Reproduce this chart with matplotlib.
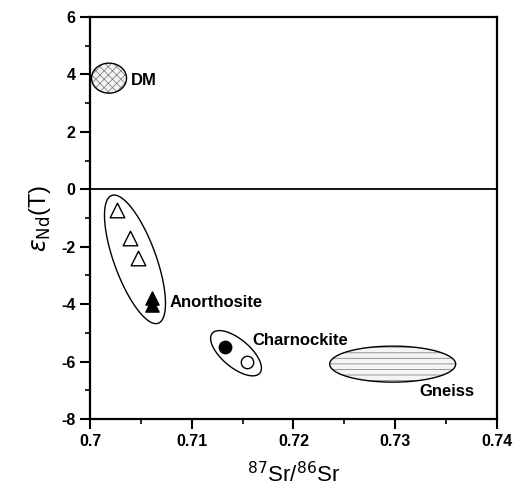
import numpy as np
import matplotlib
matplotlib.use("Agg")
import matplotlib.pyplot as plt
from matplotlib.patches import Polygon

plt.rcParams['font.family'] = ['Liberation Sans', 'DejaVu Sans']
plt.rcParams['hatch.linewidth'] = 0.6
plt.rcParams['axes.unicode_minus'] = False

# sample points (87Sr/86Sr, eNd(T))
anor_open_x = [0.70262, 0.70393, 0.70475]
anor_open_y = [-0.73, -1.68, -2.38]
anor_fill_x = [0.70606, 0.70606]
anor_fill_y = [-3.78, -4.02]
charn_fill_x = [0.71327]
charn_fill_y = [-5.49]
charn_open_x = [0.71540]
charn_open_y = [-6.02]

# fields: name, centre x, centre y, semi-axis a (px), semi-axis b (px), angle (deg), hatch
fields = [
    ("DM", 0.70187, 3.87, 17.5, 15.0, 0, "xxxx"),
    ("Anorthosite", 0.70442, -2.44, 68.0, 21.0, -70, None),
    ("Charnockite", 0.71435, -5.71, 31.0, 14.0, -40, None),
    ("Gneiss", 0.72975, -6.09, 63.0, 18.0, 0, "---"),
]

labels = ["DM", "Anorthosite", "Charnockite", "Gneiss"]
label_x = [0.7040, 0.7078, 0.7160, 0.7324]
label_y = [3.8, -3.93, -5.26, -7.06]

fig = plt.figure(figsize=(5.15, 5.04), dpi=100)
ax = fig.add_axes([0.1748, 0.1687, 0.7902, 0.7976])
ax.set_xlim(0.70, 0.74)
ax.set_ylim(-8, 6)

# pixel scale of the axes (for drawing round ellipses on screen)
px_per_x = 0.7902 * 515 / 0.04
px_per_y = 0.7976 * 504 / 14.0

t = np.linspace(0, 2 * np.pi, 200)
for name, cx, cy, a, b, ang, hatch in fields:
    th = np.deg2rad(ang)
    dx = a * np.cos(t) * np.cos(th) - b * np.sin(t) * np.sin(th)
    dy = a * np.cos(t) * np.sin(th) + b * np.sin(t) * np.cos(th)
    pts = np.column_stack([cx + dx / px_per_x, cy + dy / px_per_y])
    if hatch:
        ax.add_patch(Polygon(pts, closed=True, facecolor="#f4f4f4",
                             edgecolor="#888888", hatch=hatch, lw=0, zorder=1))
    ax.add_patch(Polygon(pts, closed=True, fill=False, edgecolor="black",
                         lw=1.0, zorder=2))

ax.axhline(0, color="black", lw=1.3, zorder=2)

ax.scatter(anor_open_x, anor_open_y, marker="^", s=110, facecolors="white",
           edgecolors="black", linewidths=1.0, zorder=3)
ax.scatter(anor_fill_x, anor_fill_y, marker="^", s=90, color="black", zorder=3)
ax.scatter(charn_fill_x, charn_fill_y, marker="o", s=80, color="black", zorder=3)
ax.scatter(charn_open_x, charn_open_y, marker="o", s=80, facecolors="white",
           edgecolors="black", linewidths=1.0, zorder=3)

for lab, lx, ly in zip(labels, label_x, label_y):
    ax.text(lx, ly, lab, fontsize=12, fontweight="bold", va="center", ha="left")

ax.set_xticks([0.70, 0.71, 0.72, 0.73, 0.74])
ax.set_xticklabels(["0.7", "0.71", "0.72", "0.73", "0.74"])
ax.set_xticks(np.arange(0.705, 0.74, 0.01), minor=True)
ax.set_yticks(range(-8, 7, 2))
ax.set_yticks(range(-7, 6, 2), minor=True)
ax.tick_params(which="major", direction="out", length=7, width=1.5,
               labelsize=11.5, top=False, right=False)
ax.tick_params(which="minor", direction="out", length=3.5, width=1.2,
               top=False, right=False)
for lbl in ax.get_xticklabels() + ax.get_yticklabels():
    lbl.set_fontweight("bold")
for sp in ax.spines.values():
    sp.set_linewidth(1.6)

ax.set_xlabel(r"$^{\mathit{87}}$Sr/$^{\mathit{86}}$Sr", fontsize=16, labelpad=10)
ax.set_ylabel(r"$\varepsilon_{\mathrm{Nd}}$(T)", fontsize=17, labelpad=6)

fig.savefig("out.png", dpi=100)
